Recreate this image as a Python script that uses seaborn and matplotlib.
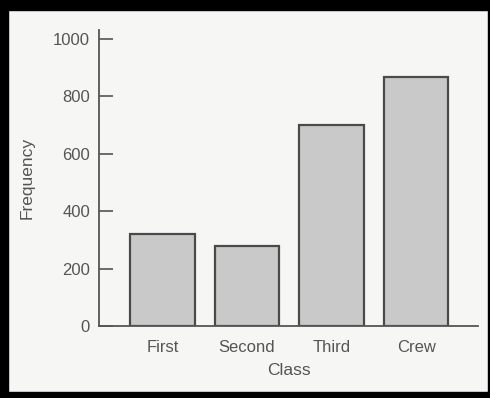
import matplotlib
matplotlib.use("Agg")
import numpy as np
import pandas as pd
import seaborn as sns
import matplotlib.pyplot as plt

classes = ["First", "Second", "Third", "Crew"]
frequency = [320, 278, 699, 866]
yticks = [0, 200, 400, 600, 800, 1000]

sns.set_style("white")
plt.rcParams["font.family"] = ["Liberation Sans", "DejaVu Sans"]

text_col = "#555555"
df = pd.DataFrame({"Class": classes, "Frequency": frequency})

fig = plt.figure(figsize=(4.9, 3.98), dpi=100, facecolor="#f6f6f4")
ax = fig.add_axes([99 / 490, 72 / 398, 379 / 490, 296 / 398])
ax.set_facecolor("#f6f6f4")

sns.barplot(data=df, x="Class", y="Frequency", color="#c9c9c9", saturation=1,
            width=0.76, edgecolor="#4a4a4a", linewidth=1.6, ax=ax)

ax.set_xlim(-0.75, 3.73)
ax.set_ylim(0, 1030)
ax.set_yticks(yticks)
ax.set_yticklabels([str(t) for t in yticks])
for s in ["top", "right"]:
    ax.spines[s].set_visible(False)
for s in ["left", "bottom"]:
    ax.spines[s].set_color("#555555")
    ax.spines[s].set_linewidth(1.3)
ax.tick_params(axis="y", direction="in", length=10, width=1.2, color="#555555",
               labelsize=12, labelcolor=text_col, pad=6.5, left=True)
ax.tick_params(axis="x", length=0, labelsize=12, labelcolor=text_col, pad=10)
ax.set_xlabel("Class", fontsize=12.5, color=text_col, labelpad=6)
ax.set_ylabel("Frequency", fontsize=12.5, color=text_col, labelpad=13)

# scanned page frame
fig.add_artist(plt.Rectangle((0, 0), 8 / 490, 1, transform=fig.transFigure, color="black"))
fig.add_artist(plt.Rectangle((0, 1 - 10 / 398), 1, 10 / 398, transform=fig.transFigure, color="black"))
fig.add_artist(plt.Rectangle((0, 0), 1, 6 / 398, transform=fig.transFigure, color="black"))
fig.add_artist(plt.Rectangle((1 - 2 / 490, 0), 2 / 490, 1, transform=fig.transFigure, color="black"))

fig.savefig("out.png", dpi=100, facecolor=fig.get_facecolor())
